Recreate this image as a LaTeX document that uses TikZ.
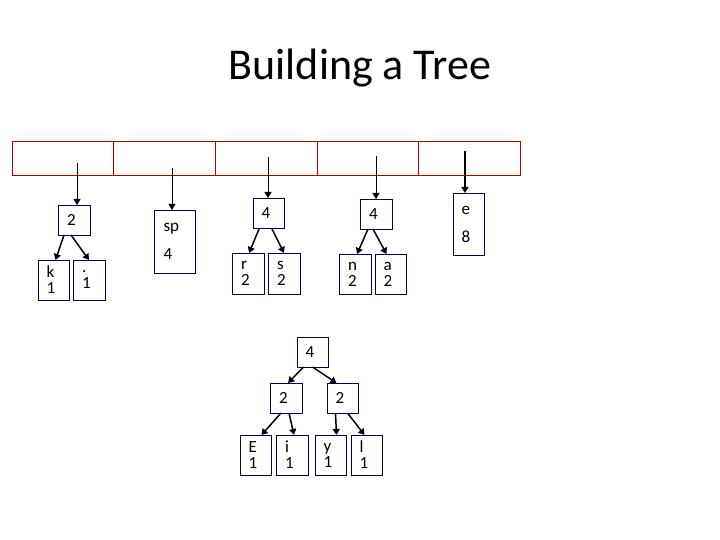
\documentclass[tikz,border=0pt]{standalone}
\usepackage{fontspec}
\setmainfont{Carlito}
\usetikzlibrary{arrows.meta}
\begin{document}
\begin{tikzpicture}[x=1pt,y=-1pt,
  box/.style={draw=blue!30!black,thick,inner sep=0pt,outer sep=0pt,font=\fontsize{17}{16}\selectfont,align=left,text width=14pt},
  cell/.style={draw=red!70!black,minimum width=101.6pt,minimum height=34pt,inner sep=0pt,outer sep=0pt},
  ptr/.style={-{Triangle[length=6pt,width=7pt]},thick},
  kid/.style={-{Triangle[length=6pt,width=7pt]},line width=1.5pt}]
\useasboundingbox (0,0) rectangle (720,540);
\node[font=\fontsize{44}{46}\selectfont] (title) at (360,68) {Building a Tree};
% array
\begin{scope}[every node/.style={cell}]
    \node (c1) at (62.8,158) {};
    \node (c2) at (164.4,158) {};
    \node (c3) at (266,158) {};
    \node (c4) at (367.6,158) {};
    \node (c5) at (469.2,158) {};
\end{scope}
\coordinate (p1) at (77,163);
\coordinate (p2) at (172,168);
\coordinate (p3) at (268,157);
\coordinate (p4) at (376,156);
\coordinate (p5) at (465,151);
% boxes
\node[box,minimum width=32,minimum height=30] (t1) at (74,220) {2};
\node[box,minimum width=31,minimum height=40] (k) at (53.5,280) {k\\1};
\node[box,minimum width=32,minimum height=40] (dot) at (89,280) {.\\1};
\node[box,minimum width=41,minimum height=63,text width=22pt] (sp) at (174.5,241.5) {sp\\[12pt]4};
\node[box,minimum width=31,minimum height=30] (t3) at (268.5,213) {4};
\node[box,minimum width=32,minimum height=41] (r) at (248,273.5) {r\\2};
\node[box,minimum width=32,minimum height=41] (s) at (284,273.5) {s\\2};
\node[box,minimum width=32,minimum height=30] (t4) at (376,214) {4};
\node[box,minimum width=32,minimum height=40] (n) at (355,274) {n\\2};
\node[box,minimum width=31,minimum height=40] (a) at (390.5,274) {a\\2};
\node[box,minimum width=31,minimum height=62] (e) at (468.5,224) {e\\[12pt]8};
\node[box,minimum width=31,minimum height=30] (t6) at (312.5,352) {4};
\node[box,minimum width=32,minimum height=30] (l2) at (286,398) {2};
\node[box,minimum width=31,minimum height=30] (r2) at (342.5,398) {2};
\node[box,minimum width=31,minimum height=40] (E) at (255.5,455) {E\\1};
\node[box,minimum width=32,minimum height=40] (i) at (292,455) {i\\1};
\node[box,minimum width=31,minimum height=40] (y) at (330.5,455) {y\\1};
\node[box,minimum width=31,minimum height=40] (l) at (366.5,455) {l\\1};
% pointers
\draw[ptr] (p1) -- (t1.north -| p1);
\draw[ptr] (p2) -- (sp.north -| p2);
\draw[ptr] (p3) -- (t3.north -| p3);
\draw[ptr] (p4) -- (t4.north -| p4);
\draw[ptr,line width=1.5pt] (p5) -- (e.north -| p5);
% children
\draw[kid] ([xshift=-10]t1.south) -- ([xshift=2]k.north);
\draw[kid] ([xshift=-3]t1.south) -- ([xshift=0]dot.north);
\draw[kid] ([xshift=-9]t3.south) -- ([xshift=1]r.north);
\draw[kid] ([xshift=3]t3.south) -- ([xshift=0]s.north);
\draw[kid] ([xshift=-8]t4.south) -- ([xshift=2]n.north);
\draw[kid] ([xshift=-3]t4.south) -- ([xshift=-4]a.north);
\draw[kid] ([xshift=-9]t6.south) -- ([xshift=2]l2.north);
\draw[kid] ([xshift=0]t6.south) -- ([xshift=-6]r2.north);
\draw[kid] ([xshift=-5]l2.south) -- ([xshift=6]E.north);
\draw[kid] ([xshift=3]l2.south) -- ([xshift=2]i.north);
\draw[kid] ([xshift=-7]r2.south) -- ([xshift=6]y.north);
\draw[kid] ([xshift=5]r2.south) -- ([xshift=-2]l.north);
\end{tikzpicture}
\end{document}
